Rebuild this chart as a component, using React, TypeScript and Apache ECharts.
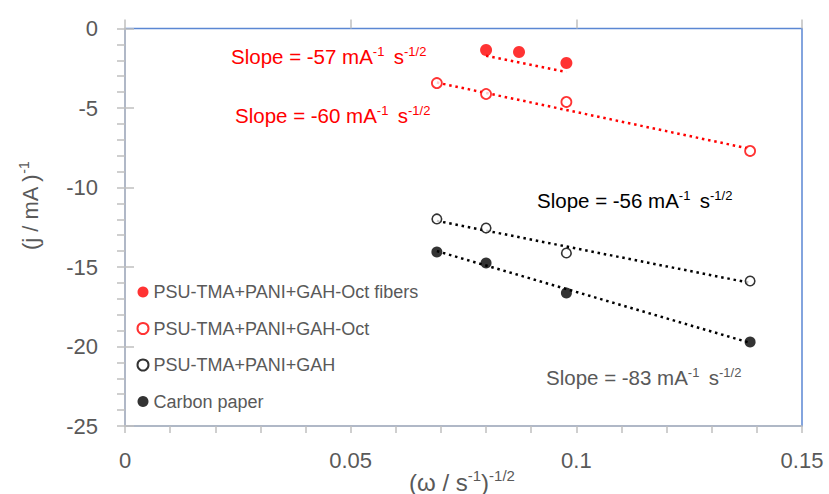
import React, { useEffect, useRef } from "react";
import * as echarts from "echarts";

// ---- data ----
const seriesNames = [
  "PSU-TMA+PANI+GAH-Oct fibers",
  "PSU-TMA+PANI+GAH-Oct",
  "PSU-TMA+PANI+GAH",
  "Carbon paper",
];

const xFibers = [0.08, 0.0873, 0.0978];
const yFibers = [-1.35, -1.48, -2.17];

const xRot = [0.0691, 0.08, 0.0978, 0.1385];
const yOct = [-3.43, -4.12, -4.62, -7.7];
const yGAH = [-11.98, -12.55, -14.12, -15.88];
const yCarbon = [-14.06, -14.75, -16.64, -19.72];

// trend-line end points (linear fits as drawn in the reference)
const trendFibersX = [0.08, 0.0978];
const trendFibersY = [-1.72, -2.74];
const trendX = [0.0691, 0.1385];
const trendOctY = [-3.4, -7.57];
const trendGAHY = [-12.1, -16.0];
const trendCarbonY = [-14.0, -19.77];

const slopeLabels = ["-57", "-60", "-56", "-83"];

const xTicks = { min: 0, max: 0.15, interval: 0.05 };
const yTicks = { min: -25, max: 0, interval: 5 };

const FONT = "'Liberation Sans', Arial, sans-serif";
const GRAY = "#595959";
const AXIS = "#bfbfbf";

const zip = (xs: number[], ys: number[]) => xs.map((x, i) => [x, ys[i]]);

function slopeText(value: string, color: string, x: number, y: number) {
  return {
    type: "text",
    x,
    y,
    style: {
      text: `{m|Slope = ${value} mA}{s|-1 }{m| s}{s|-1/2}`,
      verticalAlign: "middle",
      rich: {
        m: { fontSize: 20.5, fontFamily: FONT, fill: color, color, lineHeight: 23 },
        s: {
          fontSize: 13,
          fontFamily: FONT,
          fill: color,
          color,
          lineHeight: 13,
          verticalAlign: "top",
        },
      },
    },
  };
}

export default function App() {
  const ref = useRef<HTMLDivElement>(null);

  useEffect(() => {
    if (!ref.current) return;
    const chart = echarts.init(ref.current, undefined, { renderer: "svg" });

    const dotted = (color: string) => ({
      color,
      width: 2.5,
      type: [2.5, 3.8] as any,
    });

    const option: any = {
      animation: false,
      backgroundColor: "#ffffff",
      grid: {
        left: 125,
        right: 27,
        top: 28.5,
        bottom: 68,
        show: true,
        borderColor: "#5b87d3",
        borderWidth: 1.5,
        backgroundColor: "transparent",
      },
      xAxis: [
        {
          type: "value",
          ...xTicks,
          axisLine: { show: true, onZero: false, lineStyle: { color: AXIS, width: 1.5 } },
          axisTick: { show: true, length: 7, lineStyle: { color: AXIS, width: 1.5 } },
          minorTick: { show: true, splitNumber: 5, length: 7, lineStyle: { color: AXIS, width: 1.5 } },
          splitLine: { show: false },
          axisLabel: {
            fontSize: 22,
            fontFamily: FONT,
            color: GRAY,
            margin: 23,
            formatter: (v: number) => String(+v.toFixed(2)),
          },
        },
        {
          type: "value",
          ...xTicks,
          position: "bottom",
          axisLine: { show: false },
          axisTick: { show: true, inside: true, length: 9, lineStyle: { color: AXIS, width: 1.5 } },
          splitLine: { show: false },
          axisLabel: { show: false },
        },
      ],
      yAxis: [
        {
          type: "value",
          ...yTicks,
          axisLine: { show: true, onZero: false, lineStyle: { color: AXIS, width: 1.5 } },
          axisTick: { show: true, length: 8, lineStyle: { color: AXIS, width: 1.5 } },
          minorTick: { show: true, splitNumber: 5, length: 8, lineStyle: { color: AXIS, width: 1.5 } },
          splitLine: { show: false },
          axisLabel: { fontSize: 22, fontFamily: FONT, color: GRAY, margin: 27 },
        },
        {
          type: "value",
          ...yTicks,
          position: "left",
          axisLine: { show: false },
          axisTick: { show: true, inside: true, length: 9, lineStyle: { color: AXIS, width: 1.5 } },
          splitLine: { show: false },
          axisLabel: { show: false },
        },
      ],
      legend: {
        data: seriesNames,
        orient: "vertical",
        left: 136.5,
        top: 282,
        itemWidth: 11,
        itemHeight: 11,
        itemGap: 16.5,
        padding: 0,
        textStyle: { fontSize: 18, fontFamily: FONT, color: GRAY, lineHeight: 20 },
      },
      series: [
        {
          type: "line",
          data: zip(trendFibersX, trendFibersY),
          symbol: "none",
          lineStyle: dotted("#ff0000"),
          silent: true,
          z: 1,
        },
        {
          type: "line",
          data: zip(trendX, trendOctY),
          symbol: "none",
          lineStyle: dotted("#ff0000"),
          silent: true,
          z: 1,
        },
        {
          type: "line",
          data: zip(trendX, trendGAHY),
          symbol: "none",
          lineStyle: dotted("#000000"),
          silent: true,
          z: 1,
        },
        {
          type: "line",
          data: zip(trendX, trendCarbonY),
          symbol: "none",
          lineStyle: dotted("#000000"),
          silent: true,
          z: 1,
        },
        {
          name: seriesNames[0],
          type: "scatter",
          data: zip(xFibers, yFibers),
          symbol: "circle",
          symbolSize: 12,
          itemStyle: { color: "#ff0000" },
          z: 3,
        },
        {
          name: seriesNames[1],
          type: "scatter",
          data: zip(xRot, yOct),
          symbol: "circle",
          symbolSize: 10,
          itemStyle: { color: "#ffffff", borderColor: "#ff0000", borderWidth: 1.8 },
          z: 3,
        },
        {
          name: seriesNames[2],
          type: "scatter",
          data: zip(xRot, yGAH),
          symbol: "circle",
          symbolSize: 9.5,
          itemStyle: { color: "#ffffff", borderColor: "#000000", borderWidth: 1.6 },
          z: 3,
        },
        {
          name: seriesNames[3],
          type: "scatter",
          data: zip(xRot, yCarbon),
          symbol: "circle",
          symbolSize: 11,
          itemStyle: { color: "#000000" },
          z: 3,
        },
      ],
      graphic: [
        slopeText(slopeLabels[0], "#ff0000", 231, 56),
        slopeText(slopeLabels[1], "#ff0000", 235, 115),
        slopeText(slopeLabels[2], "#000000", 537, 200),
        slopeText(slopeLabels[3], GRAY, 546, 377),
        {
          type: "text",
          x: 462,
          y: 482,
          style: {
            text: "{m|(ω / s}{s|-1}{m|)}{s|-1/2}",
            align: "center",
            verticalAlign: "middle",
            rich: {
              m: { fontSize: 24, fontFamily: FONT, fill: GRAY, color: GRAY, lineHeight: 28 },
              s: { fontSize: 15, fontFamily: FONT, fill: GRAY, color: GRAY, lineHeight: 15, verticalAlign: "top" },
            },
          },
        },
        {
          type: "text",
          x: 30,
          y: 206,
          rotation: Math.PI / 2,
          style: {
            text: "{m|(j / mA )}{s|-1}",
            align: "center",
            verticalAlign: "middle",
            rich: {
              m: { fontSize: 22, fontFamily: FONT, fill: GRAY, color: GRAY, lineHeight: 26 },
              s: { fontSize: 14, fontFamily: FONT, fill: GRAY, color: GRAY, lineHeight: 14, verticalAlign: "top" },
            },
          },
        },
      ],
    };

    chart.setOption(option);
    return () => chart.dispose();
  }, []);

  return (
    <div
      ref={ref}
      style={{ position: "fixed", left: 0, top: 0, width: 829, height: 494, background: "#fff" }}
    />
  );
}
